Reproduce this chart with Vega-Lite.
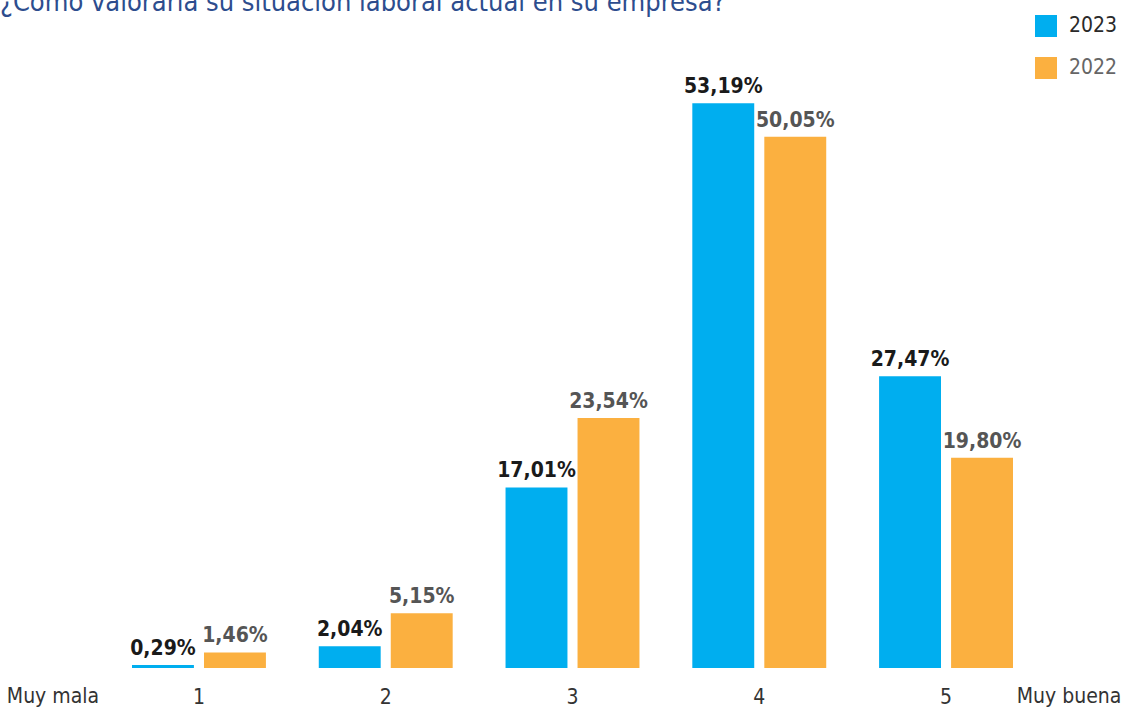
{
  "$schema": "https://vega.github.io/schema/vega-lite/v6.json",
  "width": 1122,
  "height": 637,
  "autosize": {"type": "none"},
  "padding": {"left": 0, "top": 31, "right": 0, "bottom": 41},
  "background": "white",
  "title": {
    "text": "¿Cómo valoraría su situación laboral actual en su empresa?",
    "anchor": "start",
    "frame": "group",
    "font": "DejaVu Sans Condensed",
    "fontSize": 27,
    "fontWeight": "normal",
    "color": "#2D4D8E",
    "baseline": "alphabetic",
    "offset": 3,
    "dy": 26
  },
  "config": {"view": {"stroke": null}},
  "datasets": {
    "bars": [
      {"cat": "1", "year": "2023", "value": 0.29, "label": "0,29%"},
      {"cat": "1", "year": "2022", "value": 1.46, "label": "1,46%"},
      {"cat": "2", "year": "2023", "value": 2.04, "label": "2,04%"},
      {"cat": "2", "year": "2022", "value": 5.15, "label": "5,15%"},
      {"cat": "3", "year": "2023", "value": 17.01, "label": "17,01%"},
      {"cat": "3", "year": "2022", "value": 23.54, "label": "23,54%"},
      {"cat": "4", "year": "2023", "value": 53.19, "label": "53,19%"},
      {"cat": "4", "year": "2022", "value": 50.05, "label": "50,05%"},
      {"cat": "5", "year": "2023", "value": 27.47, "label": "27,47%"},
      {"cat": "5", "year": "2022", "value": 19.80, "label": "19,80%"}
    ],
    "endLeft": [{"cat": "1", "value": 0, "t": "Muy mala"}],
    "endRight": [{"cat": "5", "value": 0, "t": "Muy buena"}]
  },
  "layer": [
    {
      "data": {"name": "bars"},
      "mark": {"type": "bar"},
      "encoding": {
        "x": {
          "field": "cat",
          "type": "nominal",
          "scale": {"domain": ["1", "2", "3", "4", "5"], "range": [132, 1013], "paddingInner": 0.283, "paddingOuter": 0},
          "axis": {
            "title": null,
            "domain": false,
            "ticks": false,
            "labelAngle": 0,
            "labelFont": "DejaVu Sans Condensed",
            "labelFontSize": 21,
            "labelColor": "#333333",
            "labelPadding": 18
          }
        },
        "y": {"field": "value", "type": "quantitative", "scale": {"domain": [0, 60]}, "axis": null},
        "xOffset": {"field": "year", "type": "nominal", "sort": ["2023", "2022"], "scale": {"paddingInner": 0.14}},
        "color": {
          "field": "year",
          "type": "nominal",
          "scale": {"domain": ["2023", "2022"], "range": ["#00AEEF", "#FBB040"]},
          "legend": {
            "title": null,
            "orient": "none",
            "legendX": 1035,
            "legendY": -16,
            "padding": 0,
            "symbolType": "square",
            "symbolSize": 484,
            "symbolStrokeWidth": 0,
            "labelFont": "DejaVu Sans Condensed",
            "labelFontSize": 21,
            "labelOffset": 12,
            "rowPadding": 20,
            "labelColor": "#333333",
            "encode": {
              "labels": {
                "update": {
                  "fill": {"signal": "datum.label == '2023' ? '#2a2a2a' : '#666666'"}
                }
              }
            }
          }
        }
      }
    },
    {
      "data": {"name": "bars"},
      "mark": {"type": "text", "baseline": "alphabetic", "dy": -10, "font": "DejaVu Sans Condensed", "fontWeight": "bold", "fontSize": 21},
      "encoding": {
        "x": {"field": "cat", "type": "nominal"},
        "y": {"field": "value", "type": "quantitative"},
        "xOffset": {"field": "year", "type": "nominal", "sort": ["2023", "2022"]},
        "text": {"field": "label"},
        "color": {"condition": {"test": "datum.year == '2023'", "value": "#1A1A1A"}, "value": "#555555"}
      }
    },
    {
      "data": {"name": "endLeft"},
      "mark": {"type": "text", "baseline": "middle", "dx": -146, "dy": 29, "font": "DejaVu Sans Condensed", "fontSize": 21, "color": "#333333"},
      "encoding": {
        "x": {"field": "cat", "type": "nominal"},
        "y": {"field": "value", "type": "quantitative"},
        "text": {"field": "t"}
      }
    },
    {
      "data": {"name": "endRight"},
      "mark": {"type": "text", "baseline": "middle", "dx": 123, "dy": 29, "font": "DejaVu Sans Condensed", "fontSize": 21, "color": "#333333"},
      "encoding": {
        "x": {"field": "cat", "type": "nominal"},
        "y": {"field": "value", "type": "quantitative"},
        "text": {"field": "t"}
      }
    }
  ]
}
